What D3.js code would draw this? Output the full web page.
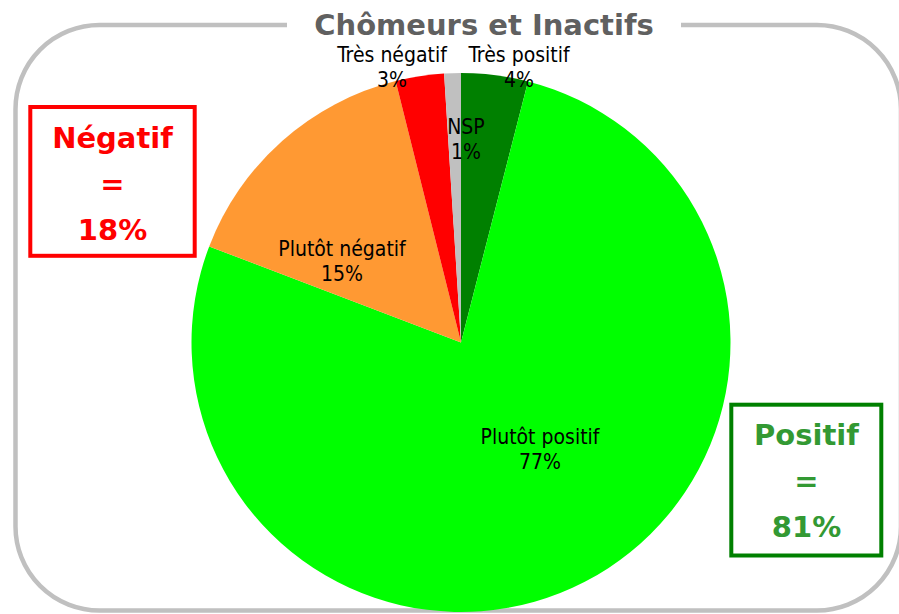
<!DOCTYPE html>
<html>
<head>
<meta charset="utf-8">
<script src="https://cdn.jsdelivr.net/npm/d3@7"></script>
<style>
  html, body { margin: 0; padding: 0; background: #ffffff; }
  svg { display: block; }
</style>
</head>
<body>
<script>
// ---- data ----
const title = "Chômeurs et Inactifs";
const categories = ["Très positif", "Plutôt positif", "Plutôt négatif", "Très négatif", "NSP"];
const values = [4.0, 76.8, 15.3, 2.9, 1.0];
const valueLabels = ["4%", "77%", "15%", "3%", "1%"];
const colors = ["#008000", "#00ff00", "#ff9933", "#ff0000", "#c0c0c0"];
const summaryNames = ["Négatif", "Positif"];
const summaryValues = ["18%", "81%"];

// ---- layout ----
const W = 899, H = 614;
const cx = 461, cy = 342.5, R = 269.5;
// label anchor (first baseline) relative to the pie centre
const labelOffsets = [[58, -281], [79, 101], [-119, -87], [-69, -281], [5, -209]];

const svg = d3.select("body").append("svg")
  .attr("width", W).attr("height", H)
  .attr("viewBox", `0 0 ${W} ${H}`);

svg.append("rect").attr("width", W).attr("height", H).attr("fill", "#ffffff");

// rounded frame
svg.append("rect")
  .attr("x", 15.5).attr("y", 25)
  .attr("width", 901 - 15.5).attr("height", 610.5 - 25)
  .attr("rx", 84).attr("ry", 84)
  .attr("fill", "none").attr("stroke", "#c0c0c0").attr("stroke-width", 4.5);

// title with white gap behind
svg.append("rect").attr("x", 287).attr("y", 15).attr("width", 681 - 287).attr("height", 22).attr("fill", "#ffffff");
svg.append("text")
  .attr("x", 484).attr("y", 35)
  .attr("text-anchor", "middle")
  .attr("font-family", "'DejaVu Sans', Verdana, sans-serif")
  .attr("font-weight", "bold")
  .attr("font-size", 29)
  .attr("fill", "#606060")
  .text(title);

// pie
const pie = d3.pie().sort(null).value(d => d).startAngle(0).endAngle(2 * Math.PI);
const arcs = pie(values);
const arc = d3.arc().innerRadius(0).outerRadius(R);
const color = d3.scaleOrdinal().domain(categories).range(colors);

const g = svg.append("g").attr("transform", `translate(${cx},${cy})`);
g.selectAll("path.slice").data(arcs).enter().append("path")
  .attr("class", "slice")
  .attr("d", arc)
  .attr("fill", (d, i) => color(categories[i]));

// slice labels
const lab = g.selectAll("text.lab").data(arcs).enter().append("text")
  .attr("class", "lab")
  .attr("text-anchor", "middle")
  .attr("font-family", "'DejaVu Sans Condensed', 'DejaVu Sans', sans-serif")
  .attr("font-stretch", "condensed")
  .attr("font-size", 21)
  .attr("fill", "#000000")
  .attr("transform", (d, i) => `translate(${labelOffsets[i][0]},${labelOffsets[i][1]})`);
lab.append("tspan").attr("x", 0).attr("y", 0).text((d, i) => categories[i]);
lab.append("tspan").attr("x", 0).attr("y", 25).text((d, i) => valueLabels[i]);

// summary boxes
const boxes = [
  { x: 30.3, y: 107, w: 164.4, h: 148.8, stroke: "#ff0000", fill: "#ff0000", tx: 112.5, ty: 148.3 },
  { x: 731.3, y: 404.7, w: 150, h: 150.8, stroke: "#008000", fill: "#339933", tx: 806.5, ty: 445 }
];
boxes.forEach((b, i) => {
  svg.append("rect")
    .attr("x", b.x).attr("y", b.y).attr("width", b.w).attr("height", b.h)
    .attr("fill", "#ffffff").attr("stroke", b.stroke).attr("stroke-width", 4);
  const t = svg.append("text")
    .attr("text-anchor", "middle")
    .attr("font-family", "'DejaVu Sans', Verdana, sans-serif")
    .attr("font-weight", "bold")
    .attr("font-size", 29)
    .attr("fill", b.fill);
  [summaryNames[i], "=", summaryValues[i]].forEach((s, k) => {
    t.append("tspan").attr("x", b.tx).attr("y", b.ty + k * 46).text(s);
  });
});
</script>
</body>
</html>
